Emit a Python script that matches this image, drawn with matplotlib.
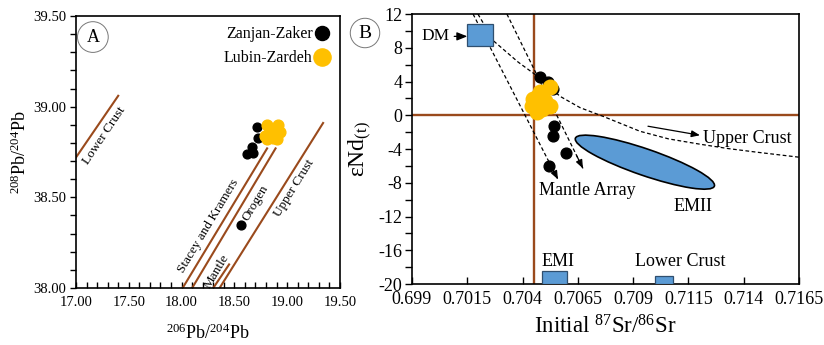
import numpy as np
import matplotlib
matplotlib.use('Agg')
import matplotlib.pyplot as plt
import matplotlib.transforms as mtransforms
from matplotlib.patches import Rectangle, Ellipse
from matplotlib.ticker import MultipleLocator, FixedLocator

plt.rcParams['font.family'] = 'serif'
plt.rcParams['font.serif'] = ['Liberation Serif', 'DejaVu Serif']
plt.rcParams['mathtext.fontset'] = 'custom'
plt.rcParams['mathtext.rm'] = 'Liberation Serif'
plt.rcParams['mathtext.it'] = 'Liberation Serif:italic'
plt.rcParams['axes.unicode_minus'] = False

# --- Panel A: Pb isotopes
zz_pb206 = [18.71, 18.72, 18.67, 18.62, 18.68, 18.56]
zz_pb208 = [38.89, 38.83, 38.78, 38.74, 38.745, 38.35]
lz_pb206 = [18.81, 18.91, 18.93, 18.87, 18.79, 18.84, 18.90, 18.81]
lz_pb208 = [38.90, 38.90, 38.86, 38.83, 38.84, 38.87, 38.82, 38.82]

ref_names = ['Lower Crust', 'Stacey and Kramers', 'Orogen', 'Mantle', 'Upper Crust']
ref_x = [(17.00, 17.40), (18.01, 18.81), (18.10, 18.89), (18.30, 18.45), (18.36, 19.34)]
ref_y = [(38.72, 39.06), (38.00, 38.77), (38.00, 38.77), (38.00, 38.13), (38.00, 38.91)]

# --- Panel B: Sr-Nd isotopes
zz_sr = [0.70479, 0.70515, 0.70537, 0.70542, 0.70537, 0.70596, 0.70519]
zz_nd = [4.5, 3.9, 3.1, -1.3, -2.5, -4.5, -6.0]
lz_sr = [0.70524, 0.70479, 0.70447, 0.70501, 0.70442, 0.70488, 0.70465, 0.70524, 0.70470]
lz_nd = [3.3, 2.7, 1.9, 1.7, 1.1, 0.7, 0.4, 1.1, 2.25]

box_names = ['DM', 'EMI', 'Lower Crust']
box_sr = [(0.7015, 0.70268), (0.70486, 0.70603), (0.71001, 0.71078)]
box_nd = [(8.2, 10.8), (-20.0, -18.46), (-20.0, -19.05)]

# mixing curve DM -> Upper Crust
uc_sr = [0.70198, 0.70271, 0.70380, 0.70474, 0.70569, 0.70660, 0.70763, 0.70931, 0.71060, 0.71202, 0.71330, 0.71460, 0.71650]
uc_nd = [12.0, 8.76, 6.3, 4.5, 2.25, 0.9, -0.12, -1.9, -2.8, -3.43, -3.95, -4.38, -4.97]
# mantle array trends
ma_sr = [(0.70176, 0.70560), (0.70329, 0.70673)]
ma_nd = [(12.0, -7.6), (12.0, -6.3)]

emii_center = (0.70953, -5.56)
bulk_earth_sr = 0.7045

brown = '#9a4a1c'
yellow = '#ffc000'
blue = '#5b9bd5'

fig = plt.figure(figsize=(8.24, 3.45), dpi=100)
axA = fig.add_axes([0.0922, 0.1652, 0.3204, 0.7884])
axB = fig.add_axes([0.5, 0.1768, 0.4697, 0.7826])

# ---------------- A
for xs, ys in zip(ref_x, ref_y):
    axA.plot(xs, ys, color=brown, lw=1.5)

axA.text(17.27, 38.84, 'Lower Crust', rotation=56, fontsize=9.5, ha='center', va='center')
axA.text(18.25, 38.34, 'Stacey and Kramers', rotation=59, fontsize=9.5, ha='center', va='center')
axA.text(18.70, 38.47, 'Orogen', rotation=59, fontsize=9.5, ha='center', va='center')
axA.text(18.335, 38.09, 'Mantle', rotation=59, fontsize=9.5, ha='center', va='center')
axA.text(19.07, 38.55, 'Upper Crust', rotation=58, fontsize=9.5, ha='center', va='center')

axA.scatter(zz_pb206, zz_pb208, s=40, c='black', zorder=3, label='Zanjan-Zaker')
axA.scatter(lz_pb206, lz_pb208, s=60, c=yellow, zorder=3, label='Lubin-Zardeh')
axA.legend(loc='upper right', markerfirst=False, frameon=False, fontsize=11.5,
           markerscale=1.6, handletextpad=0.1, borderaxespad=0.2, labelspacing=0.5,
           handlelength=1.0)

axA.set_xlim(17.0, 19.5)
axA.set_ylim(38.0, 39.5)
axA.xaxis.set_major_locator(MultipleLocator(0.5))
axA.xaxis.set_minor_locator(MultipleLocator(0.1))
axA.yaxis.set_major_locator(MultipleLocator(0.5))
axA.yaxis.set_minor_locator(MultipleLocator(0.1))
axA.xaxis.set_major_formatter(lambda v, p: f'{v:.2f}')
axA.yaxis.set_major_formatter(lambda v, p: f'{v:.2f}')
axA.tick_params(axis='x', which='both', direction='in', length=4, width=1, labelsize=10.5, pad=6)
axA.tick_params(axis='y', which='both', direction='out', length=4, width=1, labelsize=10.5, pad=3)
axA.set_xlabel(r'$^{206}$Pb/$^{204}$Pb', fontsize=13, labelpad=10)
axA.set_ylabel(r'$^{208}$Pb/$^{204}$Pb', fontsize=13, labelpad=2)
for s in axA.spines.values():
    s.set_linewidth(1.2)
axA.text(17.16, 39.384, 'A', fontsize=13, ha='center', va='center',
         bbox=dict(boxstyle='circle,pad=0.38', fc='white', ec='#777777', lw=0.7))

# ---------------- B
axB.axvline(bulk_earth_sr, color=brown, lw=1.7, zorder=1)
axB.axhline(0, color=brown, lw=1.7, zorder=1)

axB.plot(uc_sr, uc_nd, color='black', lw=0.9, ls=(0, (3, 2)), zorder=2)
for xs, ys in zip(ma_sr, ma_nd):
    axB.plot(xs, ys, color='black', lw=0.9, ls=(0, (3, 2)), zorder=2)
    axB.annotate('', xy=(xs[1], ys[1]),
                 xytext=(xs[1] - 0.08 * (xs[1] - xs[0]), ys[1] - 0.08 * (ys[1] - ys[0])),
                 arrowprops=dict(arrowstyle='-|>,head_length=0.5,head_width=0.2',
                                 color='black', lw=0.9, shrinkA=0, shrinkB=0))

for (x0, x1), (y0, y1) in zip(box_sr, box_nd):
    axB.add_patch(Rectangle((x0, y0), x1 - x0, y1 - y0, fc=blue, ec='#2f4f6f',
                            lw=0.9, zorder=4))

# EMII ellipse, size given in inches around its data centre
off = mtransforms.ScaledTranslation(emii_center[0], emii_center[1], axB.transData)
axB.add_patch(Ellipse((0, 0), 1.47, 0.265, angle=-19, fc=blue, ec='black', lw=1.2,
                      transform=fig.dpi_scale_trans + off, zorder=3))

axB.scatter(zz_sr, zz_nd, s=60, c='black', zorder=5)
axB.scatter(lz_sr, lz_nd, s=110, c=yellow, zorder=6)

axB.annotate('DM', xy=(0.7015, 9.35), xytext=(0.70072, 9.35), fontsize=12.5,
             ha='right', va='center',
             arrowprops=dict(arrowstyle='-|>,head_length=0.5,head_width=0.2',
                             color='black', lw=0.9, shrinkA=1, shrinkB=0))
axB.annotate('', xy=(0.71202, -2.37), xytext=(0.70967, -1.3),
             arrowprops=dict(arrowstyle='-|>,head_length=0.5,head_width=0.2',
                             color='black', lw=0.9, shrinkA=0, shrinkB=0))
axB.text(0.71216, -2.75, 'Upper Crust', fontsize=13, ha='left', va='center')
axB.text(0.70691, -8.9, 'Mantle Array', fontsize=13, ha='center', va='center')
axB.text(0.71170, -10.8, 'EMII', fontsize=13, ha='center', va='center')
axB.text(0.7056, -17.3, 'EMI', fontsize=13, ha='center', va='center')
axB.text(0.71112, -17.3, 'Lower Crust', fontsize=13, ha='center', va='center')

sr_ticks = [0.699, 0.7015, 0.704, 0.7065, 0.709, 0.7115, 0.714, 0.7165]
axB.set_xlim(0.699, 0.7165)
axB.set_ylim(-20, 12)
axB.xaxis.set_major_locator(FixedLocator(sr_ticks))
axB.set_xticklabels([f'{v:g}' for v in sr_ticks])
axB.yaxis.set_major_locator(MultipleLocator(4))
axB.yaxis.set_minor_locator(MultipleLocator(2))
axB.tick_params(axis='x', which='both', direction='in', length=5, width=1, labelsize=13, pad=5)
axB.tick_params(axis='y', which='both', direction='out', length=5, width=1, labelsize=13, pad=2)
axB.set_xlabel(r'Initial $^{87}$Sr/$^{86}$Sr', fontsize=16.5, labelpad=5)
axB.set_ylabel(r'εNd$_{\mathrm{(t)}}$', fontsize=17, labelpad=3)
for s in axB.spines.values():
    s.set_linewidth(1.2)
fig.text(365 / 824, 1 - 33 / 345, 'B', fontsize=14, ha='center', va='center',
         bbox=dict(boxstyle='circle,pad=0.32', fc='white', ec='#777777', lw=0.7))

fig.savefig('out.png', dpi=100)
